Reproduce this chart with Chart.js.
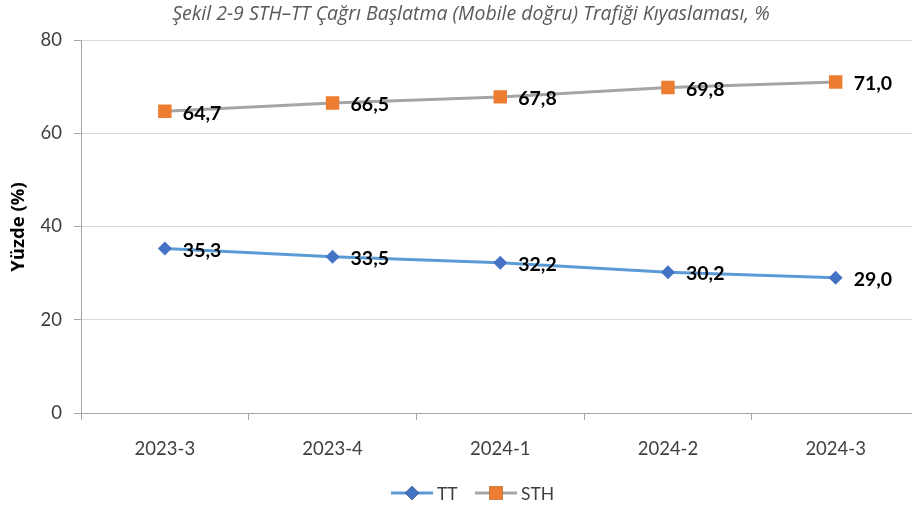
<!DOCTYPE html>
<html>
<head>
<meta charset="utf-8">
<script src="https://cdn.jsdelivr.net/npm/chart.js@4"></script>
<style>
  html, body { margin: 0; padding: 0; background: #fff; overflow: hidden; }
  #wrap { width: 912px; height: 509px; position: relative; overflow: hidden; }
</style>
</head>
<body>
<div id="wrap"><canvas id="myChart" width="929" height="509"></canvas></div>
<script>
// Datos del gráfico
const donemler = ['2023-3', '2023-4', '2024-1', '2024-2', '2024-3']
const ttValues = [35.3, 33.5, 32.2, 30.2, 29.0]
const sthValues = [64.7, 66.5, 67.8, 69.8, 71.0]
const yTicks = [0, 20, 40, 60, 80]

const chartTitle = 'Şekil 2-9 STH–TT Çağrı Başlatma (Mobile doğru) Trafiği Kıyaslaması, %'
const yTitle = 'Yüzde (%)'

const tickFont = 'Lato'
const textColor = '#404040'

// Plugin: título, etiquetas de datos y leyenda dibujados a mano
const extrasPlugin = {
    id: 'extras',
    afterDatasetsDraw(chart) {
        const ctx = chart.ctx
        ctx.save()
        ctx.font = 'bold 19.5px Lato'
        ctx.fillStyle = '#000'
        ctx.textAlign = 'left'
        ctx.textBaseline = 'middle'
        chart.data.datasets.forEach((ds, i) => {
            const meta = chart.getDatasetMeta(i)
            meta.data.forEach((pt, j) => {
                ctx.fillText(ds.data[j].toFixed(1).replace('.', ','), pt.x + 18, pt.y + 2)
            })
        })
        ctx.restore()
    },
    afterDraw(chart) {
        const ctx = chart.ctx
        ctx.save()

        // Título
        ctx.font = 'italic 19.5px "Open Sans"'
        ctx.fillStyle = '#595959'
        ctx.textAlign = 'center'
        ctx.textBaseline = 'middle'
        ctx.fillText(chartTitle, 471, 14)

        // Título eje Y
        ctx.translate(19, 227)
        ctx.rotate(-Math.PI / 2)
        ctx.font = 'bold 18.5px "Open Sans"'
        ctx.fillStyle = '#000'
        ctx.fillText(yTitle, 0, 0)
        ctx.setTransform(1, 0, 0, 1, 0, 0)

        // Leyenda
        const items = [
            { text: 'TT', ds: chart.data.datasets[0], x: 391 },
            { text: 'STH', ds: chart.data.datasets[1], x: 475 }
        ]
        const ly = 493
        items.forEach(it => {
            ctx.strokeStyle = it.ds.borderColor
            ctx.lineWidth = 3
            ctx.beginPath()
            ctx.moveTo(it.x, ly)
            ctx.lineTo(it.x + 42, ly)
            ctx.stroke()
            Chart.helpers.drawPoint(ctx, {
                pointStyle: it.ds.pointStyle,
                radius: it.ds.pointRadius,
                borderWidth: 0
            }, it.x + 21, ly)
            ctx.fillStyle = it.ds.pointBackgroundColor
            ctx.fill()
            ctx.font = '17.5px Lato'
            ctx.fillStyle = textColor
            ctx.textAlign = 'left'
            ctx.fillText(it.text, it.x + 46, ly + 1)
        })
        ctx.restore()
    }
}

const ctx = document.getElementById('myChart').getContext('2d')
const myChart = new Chart(ctx, {
    type: 'line',
    data: {
        labels: donemler,
        datasets: [{
            label: 'TT',
            data: ttValues,
            borderColor: '#5b9bd5',
            borderWidth: 3,
            pointStyle: 'rectRot',
            pointRadius: 7,
            pointBackgroundColor: '#4472c4',
            pointBorderWidth: 0,
            tension: 0
        }, {
            label: 'STH',
            data: sthValues,
            borderColor: '#a5a5a5',
            borderWidth: 3,
            pointStyle: 'rect',
            pointRadius: 9.5,
            pointBackgroundColor: '#ed7d31',
            pointBorderWidth: 0,
            tension: 0
        }]
    },
    options: {
        responsive: false,
        animation: false,
        layout: {
            padding: { top: 40, right: 0, bottom: 0, left: 0 }
        },
        scales: {
            x: {
                offset: true,
                grid: {
                    offset: true,
                    drawOnChartArea: false,
                    drawTicks: true,
                    tickLength: 7,
                    tickColor: '#a6a6a6'
                },
                border: { color: '#a6a6a6', width: 1 },
                ticks: {
                    padding: 18,
                    color: textColor,
                    font: { family: tickFont, size: 18.5 }
                },
                afterFit(scale) { scale.height = 96 }
            },
            y: {
                min: 0,
                max: 80,
                afterBuildTicks(scale) { scale.ticks = yTicks.map(v => ({ value: v })) },
                grid: {
                    color: '#d9d9d9',
                    tickLength: 7,
                    tickColor: '#a6a6a6'
                },
                border: { color: '#a6a6a6', width: 1 },
                ticks: {
                    padding: 12,
                    color: textColor,
                    font: { family: tickFont, size: 18.5 }
                },
                afterFit(scale) { scale.width = 81 }
            }
        },
        plugins: {
            legend: { display: false },
            title: { display: false },
            tooltip: { enabled: false }
        }
    },
    plugins: [extrasPlugin]
})
</script>
</body>
</html>
